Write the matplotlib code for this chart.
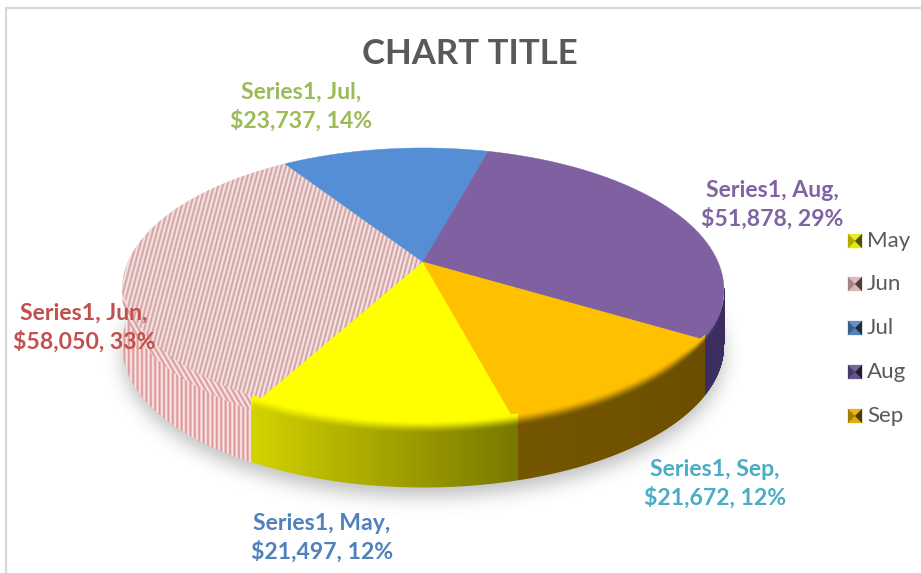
import numpy as np
import matplotlib
matplotlib.use("Agg")
import matplotlib.pyplot as plt
from matplotlib.colors import to_rgb
from matplotlib.patches import Polygon
from matplotlib.path import Path

plt.rcParams['font.family'] = ['Lato', 'DejaVu Sans']

months = ["May", "Jun", "Jul", "Aug", "Sep"]
values = [21497, 58050, 23737, 51878, 21672]
percents = [12, 33, 14, 29, 12]
series_name = "Series1"
title = "CHART TITLE"
face_colors = ["#ffff00", "#e8cccc", "#558ed5", "#7f60a0", "#ffc000"]
side_left = ["#d4d400", "#e8a0a0", "#2f5597", "#3e2f63", "#755600"]
side_right = ["#787800", "#e8a0a0", "#2f5597", "#33264f", "#6b4e00"]
label_colors = ["#4f81bd", "#c0504d", "#9bbb59", "#8064a2", "#4bacc6"]
label_pos = [(322, 538), (84, 328), (301, 107), (772, 205), (715, 484)]
legend_y = [241, 284, 328, 372, 416]
legend_face = ["#e6e600", "#d9b0b0", "#4a7ebb", "#604a8b", "#e0a800"]

CX, CY, A, B, K = 423.0, 262.0, 295.0, 136.5, 0.197
DEPTH = 56.0
START = 165.0
BEVEL = 11.0
EXTENT = (-0.5, 920.5, 572.5, -0.5)

fig = plt.figure(figsize=(9.21, 5.73), dpi=100)
ax = fig.add_axes([0, 0, 1, 1])
ax.set_xlim(0, 921)
ax.set_ylim(573, 0)
ax.axis("off")


def rim(bearing, dy=0.0):
    t = np.radians(bearing)
    x, y = np.sin(t), np.cos(t)
    w = 1 + K * y
    return np.column_stack([CX + A * x / w, CY - B * y / w + dy])


def mix(c1, c2, f):
    return (1 - f) * np.array(to_rgb(c1)) + f * np.array(to_rgb(c2))


def stripes(poly, angle, period, c1, c2, z):
    X, Y = np.meshgrid(np.arange(921), np.arange(573))
    a = np.radians(angle)
    s = 0.5 + 0.5 * np.sin(2 * np.pi * (X * np.cos(a) + Y * np.sin(a)) / period)
    s = s[..., None]
    img = np.array(to_rgb(c1)) * s + np.array(to_rgb(c2)) * (1 - s)
    im = ax.imshow(img, extent=EXTENT, aspect="auto", zorder=z, interpolation="bilinear")
    im.set_clip_path(Polygon(poly, closed=True, transform=ax.transData))


edges = START + np.concatenate([[0], np.cumsum(values)]) / sum(values) * 360

# soft shadow under the pie
full = np.linspace(0, 360, 361)
shadow_poly = rim(full, DEPTH + 9)
gx, gy = np.meshgrid(np.arange(921), np.arange(573))
mask = Path(shadow_poly).contains_points(np.column_stack([gx.ravel(), gy.ravel()]))
mask = mask.reshape(gx.shape).astype(float)
kernel = np.exp(-0.5 * (np.arange(-30, 31) / 9.0) ** 2)
kernel /= kernel.sum()
mask = np.apply_along_axis(lambda v: np.convolve(v, kernel, mode="same"), 0, mask)
mask = np.apply_along_axis(lambda v: np.convolve(v, kernel, mode="same"), 1, mask)
rgba = np.zeros(mask.shape + (4,))
rgba[..., :3] = 0.35
rgba[..., 3] = mask * 0.38
ax.imshow(rgba, extent=EXTENT, aspect="auto", zorder=1)

# side wall of the striped slice
j_lo, j_hi = edges[1], edges[2]
ts = np.linspace(j_lo, j_hi, 200)
stripes(np.vstack([rim(ts), rim(ts, DEPTH)[::-1]]), 0, 4.4, "#dc8a8a", "#fdf4f4", 2)

# top faces
for i in [1, 0, 2, 3, 4]:
    lo, hi = edges[i], edges[i + 1]
    ts = np.linspace(lo, hi, int(hi - lo) * 2 + 2)
    poly = np.vstack([[CX, CY], rim(ts)])
    if months[i] == "Jun":
        stripes(poly, 15, 4.3, "#d09a9a", "#faf0f0", 3)
    else:
        ax.fill(poly[:, 0], poly[:, 1], color=face_colors[i], lw=0.3, zorder=3)

# bevel of the striped slice
ts = np.linspace(j_lo, 259.0, 100)
stripes(np.vstack([rim(ts, -BEVEL), rim(ts, 3)[::-1]]), -30, 4.6, "#dc9292", "#fbf2f2", 4)

# bevel and side wall of the solid slices, column by column
front_b = np.linspace(101, 259, 2000)
front = rim(front_b)
x_max = front[:, 0].max()
wall = np.zeros((573, 921, 4))
rows = np.arange(573)
for col in range(921):
    if col < front[:, 0].min() - 1 or col > x_max + 1:
        continue
    b = np.interp(col, front[::-1, 0], front_b[::-1])
    yr = np.interp(col, front[::-1, 0], front[::-1, 1])
    bb = b if b >= START else b + 360
    i = int(np.searchsorted(edges, bb) - 1)
    if months[i] == "Jun":
        continue
    side = mix(side_right[i], side_left[i], (bb - edges[i]) / (edges[i + 1] - edges[i]))
    bev = BEVEL * min(1.0, max(0.0, x_max - col) / 45 + 0.05)
    g = np.clip((rows - (yr - bev)) / (bev + 2), 0, 1)
    g = g * g * (3 - 2 * g)
    wall[:, col, :3] = np.outer(1 - g, to_rgb(face_colors[i])) + np.outer(g, side)
    wall[:, col, 3] = np.clip(rows - (yr - bev) + 0.5, 0, 1) * np.clip(yr + DEPTH - rows + 0.5, 0, 1)
ax.imshow(wall, extent=EXTENT, aspect="auto", zorder=4, interpolation="nearest")

# chart frame
ax.plot([5.5, 5.5, 921], [573, 7.5, 7.5], color="#d9d9d9", lw=1.6, zorder=1,
        solid_joinstyle="miter")

ax.text(470, 54, title, ha="center", va="center", fontsize=25, fontweight="bold",
        color="#595959", zorder=6)

for m, v, p, c, (x, y) in zip(months, values, percents, label_colors, label_pos):
    ax.text(x, y, f"{series_name}, {m},\n${v:,}, {p}%", ha="center", va="center",
            fontsize=16.6, fontweight="bold", color=c, linespacing=1.38, zorder=6)

# legend
for m, c, y in zip(months, legend_face, legend_y):
    x0, x1 = 848, 862
    y0, y1 = y - 7, y + 7
    xc, yc = (x0 + x1) / 2, (y0 + y1) / 2
    tris = [[(x0, y0), (x1, y0), (xc, yc)], [(x0, y1), (x1, y1), (xc, yc)],
            [(x0, y0), (x0, y1), (xc, yc)], [(x1, y0), (x1, y1), (xc, yc)]]
    shades = [mix(c, "#ffffff", 0.15), mix(c, "#ffffff", 0.05),
              mix(c, "#000000", 0.25), mix(c, "#000000", 0.65)]
    for tri, col in zip(tris, shades):
        ax.add_patch(Polygon(tri, closed=True, facecolor=col, edgecolor=col, lw=0.2, zorder=6))
    ax.text(867, y, m, ha="left", va="center", fontsize=16, color="#595959", zorder=6)

ax.set_xlim(0, 921)
ax.set_ylim(573, 0)
fig.savefig("out.png", dpi=100, facecolor="white")
